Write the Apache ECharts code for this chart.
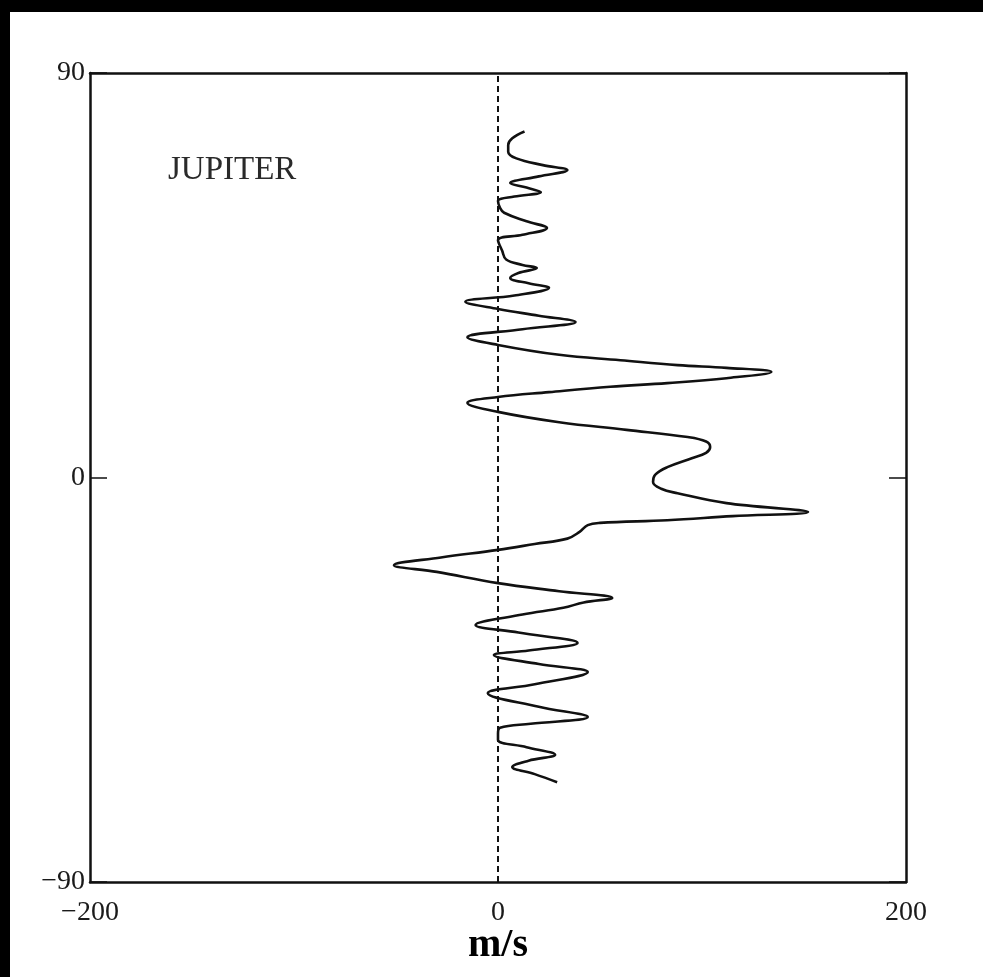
<!DOCTYPE html>
<html>
<head>
<meta charset="utf-8">
<script src="https://cdn.jsdelivr.net/npm/echarts@6/dist/echarts.min.js"></script>
<style>
  html, body { margin: 0; padding: 0; background: #fff; }
  #chart { width: 983px; height: 977px; }
</style>
</head>
<body>
<div id="chart"></div>
<script>
// zonal wind profile (north -> south)
var latitudes = [77, 75.5, 74, 72.5, 71, 69.5, 68.4, 67, 65.5, 64.5, 63.5, 62.5, 61.5, 60, 58.9, 57, 55.5, 54, 52.8,
  50.5, 48.5, 47.3, 46.6, 45.5, 44.4, 43.2, 42.2, 40.5, 39.1, 37.5, 36, 34.6, 33, 31.2, 29.5, 27.3, 26.1, 25, 24.4,
  23.5, 22.1, 21, 20.2, 19, 17.9, 16.6, 14.6, 12.3, 10.6, 9, 8, 6.8, 5.5, 4.3, 2.3, 0.6, -1, -2.5, -3.5, -5.7, -7.7,
  -8.6, -9.5, -10.1, -10.6, -12.1, -13.6, -14.8, -16.1, -17.8, -19.5, -21, -23.5, -25.3, -26.8, -27.8, -29, -30.5,
  -32.8, -34.5, -36.8, -38.5, -39.5, -41.5, -43.3, -46, -48, -51, -53.3, -54.8, -55.7, -57, -58.4, -60, -61.7, -63,
  -64.4, -66, -67.8];
var windSpeed = [13, 7, 5, 5, 9, 22, 34, 20, 6, 14, 21, 8, 0, 1, 3, 14, 24, 12, 0,
  2, 4, 12, 19, 10, 6, 15, 25, 8, -16, 0, 20, 38, 12, -15, 0, 30, 60, 88, 112,
  134, 112, 83, 55, 25, 0, -15, 0, 30, 63, 93, 102, 104, 102, 95, 83, 77, 76, 80, 88, 112, 152,
  115, 83, 50, 44, 40, 34, 18, 0, -28, -51, -30, 0, 30, 56, 42, 32, 12,
  -11, 10, 39, 15, -2, 20, 44, 18, -5, 20, 44, 16, 1, 0, 0, 14, 28, 15,
  7, 18, 29];
var xTicks = [-200, 0, 200];
var yTicks = [-90, 0, 90];

var profile = windSpeed.map(function (u, i) { return [u, latitudes[i]]; });

var serif = '"Liberation Serif", "DejaVu Serif", serif';
var ink = '#111';

function fmtNum(v) {
  return v < 0 ? '\u2212' + Math.abs(v) : String(v);
}

var chart = echarts.init(document.getElementById('chart'), null, { renderer: 'canvas' });
chart.setOption({
  backgroundColor: '#fff',
  animation: false,
  grid: { left: 90, top: 73, width: 816, height: 809, show: false },
  xAxis: [{
    type: 'value', min: xTicks[0], max: xTicks[2], interval: 200,
    axisLine: { show: true, onZero: false, lineStyle: { color: ink, width: 2.5 } },
    axisTick: { show: false },
    splitLine: { show: false },
    axisLabel: { margin: 17, fontFamily: serif, fontSize: 28, color: '#1a1a1a', formatter: fmtNum }
  }, {
    type: 'value', position: 'top', min: xTicks[0], max: xTicks[2], interval: 200,
    axisLine: { show: true, onZero: false, lineStyle: { color: ink, width: 2.5 } },
    axisTick: { show: false }, axisLabel: { show: false }, splitLine: { show: false }
  }],
  yAxis: [{
    type: 'value', min: yTicks[0], max: yTicks[2], interval: 90,
    axisLine: { show: true, onZero: false, lineStyle: { color: ink, width: 2.5 } },
    axisTick: { show: true, inside: true, length: 17, lineStyle: { color: ink, width: 1.5 } },
    splitLine: { show: false },
    axisLabel: { margin: 5, fontFamily: serif, fontSize: 28, color: '#1a1a1a', formatter: fmtNum }
  }, {
    type: 'value', position: 'right', min: yTicks[0], max: yTicks[2], interval: 90,
    axisLine: { show: true, onZero: false, lineStyle: { color: ink, width: 2.5 } },
    axisTick: { show: true, inside: true, length: 17, lineStyle: { color: ink, width: 1.5 } },
    axisLabel: { show: false }, splitLine: { show: false }
  }],
  series: [{
    type: 'line',
    data: profile,
    smooth: 0.4,
    showSymbol: false,
    lineStyle: { color: ink, width: 2.6 },
    markLine: {
      silent: true, symbol: 'none', label: { show: false },
      lineStyle: { color: ink, width: 2, type: [6, 4] },
      data: [{ xAxis: 0 }]
    },
    z: 3
  }],
  graphic: [
    { type: 'rect', shape: { x: 0, y: 0, width: 983, height: 12 }, style: { fill: '#000' } },
    { type: 'rect', shape: { x: 0, y: 0, width: 10, height: 977 }, style: { fill: '#000' } },
    { type: 'text', left: 168, top: 154,
      style: { text: 'JUPITER', font: '33px ' + serif, fill: '#2a2a2a' } },
    { type: 'text', x: 498, y: 946,
      style: { text: 'm/s', font: 'bold 40px ' + serif, fill: '#000', align: 'center', verticalAlign: 'middle' } }
  ]
});
window.addEventListener('resize', function () { chart.resize(); });
</script>
</body>
</html>
